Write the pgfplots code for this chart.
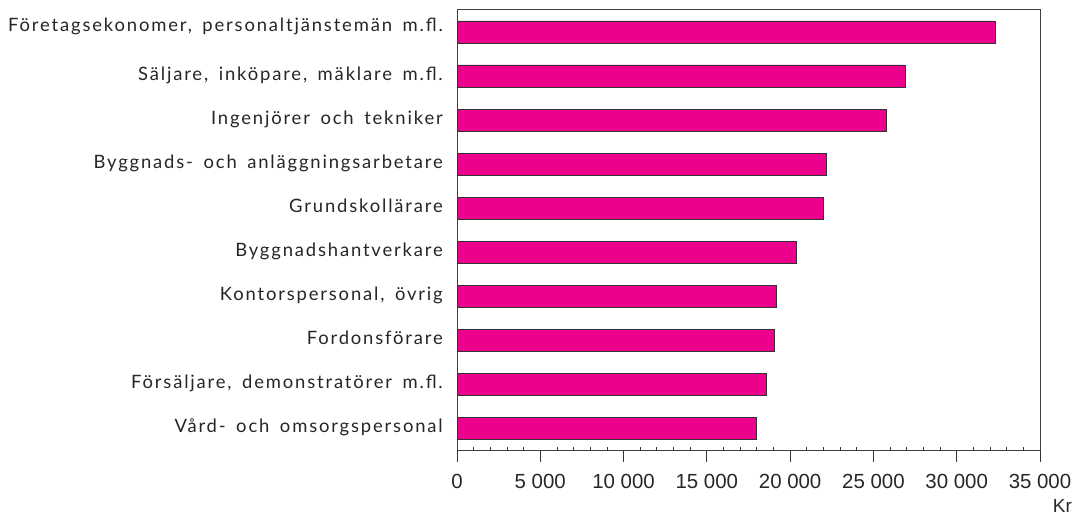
\documentclass[border=0pt]{standalone}
\usepackage{fontspec}
\setmainfont{Liberation Sans}
\newfontfamily\labfont[LetterSpace=10,WordSpace=1.6]{Lato}
\usepackage{pgfplots}
\pgfplotsset{compat=1.18}
\definecolor{barmag}{RGB}{236,0,140}
\begin{document}
\begin{tikzpicture}
\path[use as bounding box] (0,0) rectangle (1074bp,515bp);
\begin{axis}[
  at={(457bp,65bp)}, anchor=south west,
  scale only axis, width=583bp, height=440bp,
  xbar, bar width=22bp,
  xmin=0, xmax=35000, ymin=-0.5, ymax=9.5, y dir=reverse,
  xtick={0,5000,10000,15000,20000,25000,30000,35000},
  xticklabels={0,5 000,10 000,15 000,20 000,25 000,30 000,35 000},
  minor x tick num=4,
  scaled x ticks=false,
  xtick pos=bottom, ytick pos=left,
  tick align=outside,
  major tick length=12bp, minor tick length=-3bp,
  ytick={0,...,9},
  yticklabels={{\raisebox{5bp}{Företagsekonomer, personaltjänstemän m.fl.}},
    {Säljare, inköpare, mäklare m.fl.},
    {Ingenjörer och tekniker\hspace{3bp}},
    {Byggnads- och anläggningsarbetare},
    {Grundskollärare},
    {Byggnadshantverkare},
    {Kontorspersonal, övrig},
    {Fordonsförare},
    {Försäljare, demonstratörer m.fl.},
    {Vård- och omsorgspersonal}},
  y tick style={draw=none},
  x tick style={draw=black!80, line width=0.8bp},
  axis line style={draw=black!75, line width=1bp},
  xticklabel style={font=\fontsize{20.5}{21}\selectfont, text=black!85, inner sep=0pt, anchor=north, text height=15bp, text depth=0pt, yshift=-11bp},
  yticklabel style={font=\labfont\fontsize{18.5}{20}\selectfont, text=black!85, inner sep=0pt, anchor=east, text height=13bp, text depth=3.5bp, xshift=-2bp},
]
\addplot[fill=barmag, draw=black!80, line width=0.8bp] coordinates {
  (32300,0) (26900,1) (25800,2) (22150,3) (22000,4)
  (20350,5) (19150,6) (19050,7) (18550,8) (18000,9)};
\end{axis}
\node[anchor=north east, inner sep=0pt, text=black!85, font=\fontsize{19}{20}\selectfont] at (1072bp,15.5bp) {Kr};
\end{tikzpicture}
\end{document}
